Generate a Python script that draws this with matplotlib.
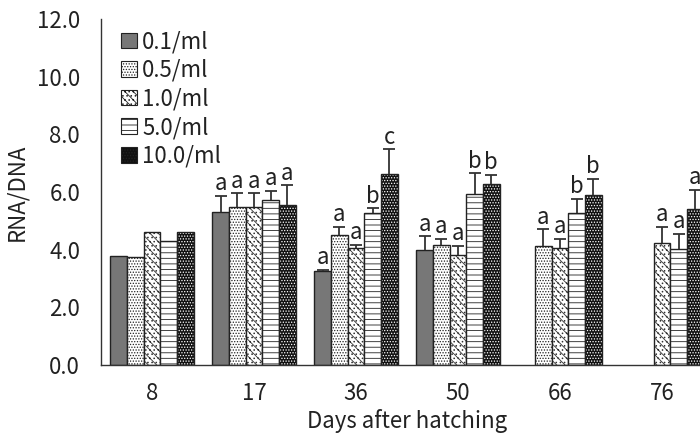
import numpy as np
import matplotlib
matplotlib.use("Agg")
import matplotlib.pyplot as plt
from matplotlib.patches import Patch

plt.rcParams['font.family'] = ['Noto Sans CJK JP', 'DejaVu Sans']
plt.rcParams['hatch.linewidth'] = 0.6

days = ["8", "17", "36", "50", "66", "76"]
series = ["0.1/ml", "0.5/ml", "1.0/ml", "5.0/ml", "10.0/ml"]

# RNA/DNA means per density (nan = no data)
v01 = [3.78, 5.32, 3.26, 3.99, np.nan, np.nan]
v05 = [3.75, 5.49, 4.50, 4.15, 4.14, np.nan]
v10 = [4.60, 5.49, 4.06, 3.80, 4.06, 4.24]
v50 = [4.31, 5.71, 5.26, 5.93, 5.26, 4.02]
v100 = [4.60, 5.55, 6.61, 6.27, 5.90, 5.40]

# upper error (SD), none on day 8
e01 = [np.nan, 0.54, 0.04, 0.48, np.nan, np.nan]
e05 = [np.nan, 0.46, 0.30, 0.22, 0.57, np.nan]
e10 = [np.nan, 0.46, 0.11, 0.33, 0.31, 0.56]
e50 = [np.nan, 0.34, 0.17, 0.72, 0.50, 0.53]
e100 = [np.nan, 0.69, 0.87, 0.33, 0.56, 0.67]

# significance letters
l01 = ["", "a", "a", "a", "", ""]
l05 = ["", "a", "a", "a", "a", ""]
l10 = ["", "a", "a", "a", "a", "a"]
l50 = ["", "a", "b", "b", "b", "a"]
l100 = ["", "a", "c", "b", "b", "a"]

values = [v01, v05, v10, v50, v100]
errors = [e01, e05, e10, e50, e100]
letters = [l01, l05, l10, l50, l100]

faces = ["#777777", "white", "white", "white", "#111111"]
hatches = [None, "......", "\\\\\\\\....", "---", "......"]
hatch_cols = ["#777777", "#222222", "#333333", "#222222", "white"]

fs = 16
fig = plt.figure(figsize=(7, 4.34), dpi=100)
ax = fig.add_axes([101 / 700, 69 / 434, 612 / 700, 346 / 434])

x = np.arange(len(days))
w = 0.163
txt = "#222222"

for i in range(len(series)):
    pos = x + (i - 2) * w
    vals = np.array(values[i], dtype=float)
    # fill + hatch
    ax.bar(pos, vals, w, color=faces[i], hatch=hatches[i], edgecolor=hatch_cols[i], linewidth=0)
    # outline
    ax.bar(pos, vals, w, fill=False, edgecolor="#222222", linewidth=1.0)
    err = np.array(errors[i], dtype=float)
    eb = ax.errorbar(pos, vals, yerr=[np.zeros_like(err), err], fmt="none",
                     ecolor="#333333", elinewidth=1.3, capsize=4.5, capthick=1.3)
    eb[1][0].set_visible(False)
    for j in range(len(days)):
        if letters[i][j] and not np.isnan(vals[j]):
            top = vals[j] + (0 if np.isnan(err[j]) else err[j])
            ax.text(pos[j], top + 0.02, letters[i][j], ha="center",
                    va="bottom", fontsize=fs, color=txt)

handles = [Patch(facecolor=faces[i], hatch=hatches[i], edgecolor="#222222", linewidth=0.8)
           for i in range(len(series))]
leg = ax.legend(handles, series, loc="upper left", bbox_to_anchor=(0.0, 1.025), frameon=False,
                fontsize=fs, handlelength=0.7, handleheight=0.7, handletextpad=0.25,
                labelspacing=0.25, borderaxespad=0.5)
for t in leg.get_texts():
    t.set_color(txt)

ax.set_xlim(-0.5, 5.5)
ax.set_ylim(0, 12)
ax.set_yticks(np.arange(0, 12.1, 2))
ax.set_yticklabels([f"{t:.1f}" for t in np.arange(0, 12.1, 2)])
ax.set_xticks(x)
ax.set_xticklabels(days)
ax.tick_params(axis="y", length=0, labelsize=fs, colors=txt, pad=15)
ax.tick_params(axis="x", length=0, labelsize=fs, colors=txt, pad=12)
ax.set_xlabel("Days after hatching", fontsize=fs, color=txt, labelpad=3)
ax.set_ylabel("RNA/DNA", fontsize=fs, color=txt, labelpad=6)
for s in ["top", "right"]:
    ax.spines[s].set_visible(False)
for s in ["left", "bottom"]:
    ax.spines[s].set_color("#333333")
    ax.spines[s].set_linewidth(1.0)

fig.savefig("out.png", dpi=100)
